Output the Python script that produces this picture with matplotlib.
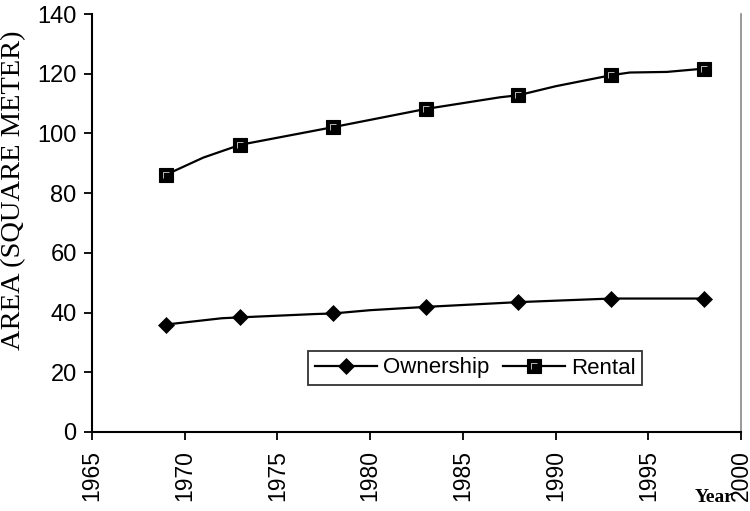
import matplotlib
matplotlib.use("Agg")
import matplotlib.pyplot as plt
from matplotlib.path import Path

# ---- data ----
survey_years = [1969, 1973, 1978, 1983, 1988, 1993, 1998]

own_years = [1969, 1972, 1973, 1977, 1978, 1980, 1983, 1988, 1993, 1998]
own_vals = [36.0, 38.1, 38.4, 39.5, 39.7, 40.8, 41.9, 43.5, 44.7, 44.7]

rent_years = [1969, 1971, 1973, 1978, 1983, 1987, 1988, 1990, 1993, 1994, 1996, 1998]
rent_vals = [86.2, 91.9, 96.2, 102.1, 108.2, 112.1, 112.8, 115.8, 119.5, 120.4, 120.6, 121.7]

series_labels = ["Ownership", "Rental"]
x_ticks = [1965, 1970, 1975, 1980, 1985, 1990, 1995, 2000]
y_ticks = [0, 20, 40, 60, 80, 100, 120, 140]

plt.rcParams['font.family'] = ['Liberation Sans', 'DejaVu Sans']

fig = plt.figure(figsize=(7.5, 5.11), dpi=100)
ax = fig.add_axes([92/750, 1-432/511, (741-92)/750, (432-14)/511])

own_mark = [own_years.index(y) for y in survey_years]
rent_mark = [rent_years.index(y) for y in survey_years]

l_own, = ax.plot(own_years, own_vals, color='black', lw=1.6, marker='D',
                 markevery=own_mark, ms=8.0, mfc='black', mec='black', mew=0.5)
l_rent, = ax.plot(rent_years, rent_vals, color='black', lw=1.6, marker='s',
                  markevery=rent_mark, ms=10, mfc='black', mec='black', mew=0.8)
# thin white inner corner highlight of the square markers
Lpath = Path([(-1, -1), (-1, 1), (1, 1)], [Path.MOVETO, Path.LINETO, Path.LINETO])
rent_mvals = [rent_vals[i] for i in rent_mark]
l_hl, = ax.plot(survey_years, rent_mvals, linestyle='none', marker=Lpath,
                ms=5.0, mfc='none', mec='white', mew=0.5)

ax.set_xlim(1965, 2000)
ax.set_ylim(0, 140)
ax.set_xticks(x_ticks)
ax.set_yticks(y_ticks)
ax.set_xticklabels([str(t) for t in x_ticks], rotation=90, fontsize=16.5)
ax.set_yticklabels([str(t) for t in y_ticks], fontsize=17)
ax.tick_params(axis='both', direction='out', length=6, width=1.3, color='black')
ax.tick_params(axis='x', pad=7)
ax.tick_params(axis='y', pad=5)

for s in ['left', 'bottom']:
    ax.spines[s].set_linewidth(1.5)
    ax.spines[s].set_color('black')
ax.spines['top'].set_visible(False)
ax.spines['right'].set_color('#888888')
ax.spines['right'].set_linewidth(1.2)

fig.text(14/750, 1-190/511, "AREA (SQUARE METER)", rotation=90, ha='center', va='center',
         family=['Liberation Serif', 'DejaVu Serif'], fontsize=20.5)
fig.text(714/750, 1-497/511, "Year", ha='center', va='center',
         family=['Liberation Serif', 'DejaVu Serif'], fontsize=14, fontweight='bold')

leg = ax.legend([l_own, (l_rent, l_hl)], series_labels, loc='center',
                bbox_to_anchor=((475-92)/649, (432-368)/418), ncol=2,
                fontsize=16, frameon=True, fancybox=False, handlelength=2.8,
                handletextpad=0.27, columnspacing=0.6, borderpad=0.3,
                borderaxespad=0)
leg.get_frame().set_edgecolor('black')
leg.get_frame().set_linewidth(1.3)

fig.savefig("out.png", dpi=100)
